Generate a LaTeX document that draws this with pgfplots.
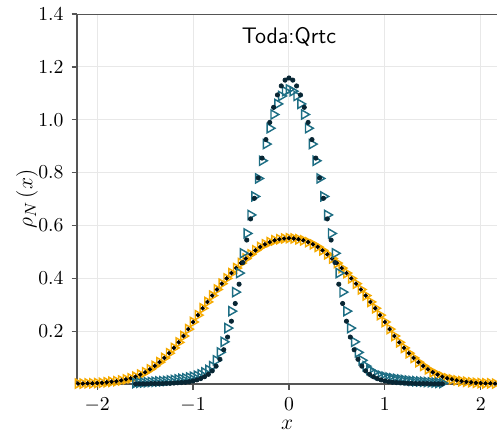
\documentclass[border=0pt]{standalone}
\usepackage{pgfplots}
\usepackage{pgfplotstable}
\pgfplotsset{compat=1.18}
\definecolor{orng}{RGB}{245,170,0}
\definecolor{tealc}{RGB}{30,110,132}
\definecolor{dkteal}{RGB}{8,38,52}
\definecolor{spine}{RGB}{85,85,85}
\definecolor{gridc}{RGB}{232,232,232}

\pgfplotstableread{
x y
-2.20 0.002
-2.15 0.002
-2.10 0.003
-2.05 0.003
-2.00 0.004
-1.95 0.005
-1.90 0.007
-1.85 0.009
-1.80 0.011
-1.75 0.014
-1.70 0.018
-1.65 0.022
-1.60 0.028
-1.55 0.036
-1.50 0.045
-1.45 0.056
-1.40 0.069
-1.35 0.083
-1.30 0.099
-1.25 0.117
-1.20 0.137
-1.15 0.158
-1.10 0.182
-1.05 0.208
-1.00 0.235
-0.95 0.261
-0.90 0.287
-0.85 0.311
-0.80 0.335
-0.75 0.358
-0.70 0.380
-0.65 0.400
-0.60 0.420
-0.55 0.439
-0.50 0.458
-0.45 0.475
-0.40 0.491
-0.35 0.506
-0.30 0.519
-0.25 0.529
-0.20 0.537
-0.15 0.544
-0.10 0.548
-0.05 0.551
0.00 0.552
0.05 0.551
0.10 0.548
0.15 0.544
0.20 0.537
0.25 0.529
0.30 0.519
0.35 0.506
0.40 0.491
0.45 0.475
0.50 0.458
0.55 0.439
0.60 0.420
0.65 0.400
0.70 0.380
0.75 0.358
0.80 0.335
0.85 0.311
0.90 0.287
0.95 0.261
1.00 0.235
1.05 0.208
1.10 0.182
1.15 0.158
1.20 0.137
1.25 0.117
1.30 0.099
1.35 0.083
1.40 0.069
1.45 0.056
1.50 0.045
1.55 0.036
1.60 0.028
1.65 0.022
1.70 0.018
1.75 0.014
1.80 0.011
1.85 0.009
1.90 0.007
1.95 0.005
2.00 0.004
2.05 0.003
2.10 0.003
2.15 0.002
2.20 0.002
}\orangetab

\pgfplotstableread{
x tri dot
-1.60 0.004 0.001
-1.56 0.005 0.001
-1.52 0.006 0.001
-1.48 0.007 0.001
-1.44 0.008 0.002
-1.40 0.009 0.002
-1.36 0.010 0.002
-1.32 0.011 0.002
-1.28 0.012 0.003
-1.24 0.014 0.003
-1.20 0.016 0.004
-1.16 0.018 0.005
-1.12 0.020 0.006
-1.08 0.022 0.007
-1.04 0.025 0.009
-1.00 0.028 0.012
-0.96 0.032 0.016
-0.92 0.037 0.021
-0.88 0.044 0.028
-0.84 0.054 0.037
-0.80 0.068 0.050
-0.76 0.090 0.068
-0.72 0.120 0.094
-0.68 0.160 0.130
-0.64 0.212 0.178
-0.60 0.276 0.238
-0.56 0.348 0.305
-0.52 0.420 0.378
-0.48 0.495 0.460
-0.44 0.570 0.545
-0.40 0.640 0.625
-0.36 0.710 0.703
-0.32 0.778 0.780
-0.28 0.845 0.855
-0.24 0.908 0.925
-0.20 0.968 0.990
-0.16 1.020 1.047
-0.12 1.060 1.094
-0.08 1.090 1.128
-0.04 1.108 1.150
0.00 1.115 1.158
0.04 1.108 1.150
0.08 1.090 1.128
0.12 1.060 1.094
0.16 1.020 1.047
0.20 0.968 0.990
0.24 0.908 0.925
0.28 0.845 0.855
0.32 0.778 0.780
0.36 0.710 0.703
0.40 0.640 0.625
0.44 0.570 0.545
0.48 0.495 0.460
0.52 0.420 0.378
0.56 0.348 0.305
0.60 0.276 0.238
0.64 0.212 0.178
0.68 0.160 0.130
0.72 0.120 0.094
0.76 0.090 0.068
0.80 0.068 0.050
0.84 0.054 0.037
0.88 0.044 0.028
0.92 0.037 0.021
0.96 0.032 0.016
1.00 0.028 0.012
1.04 0.025 0.009
1.08 0.022 0.007
1.12 0.020 0.006
1.16 0.018 0.005
1.20 0.016 0.004
1.24 0.014 0.003
1.28 0.012 0.003
1.32 0.011 0.002
1.36 0.010 0.002
1.40 0.009 0.002
1.44 0.008 0.002
1.48 0.007 0.001
1.52 0.006 0.001
1.56 0.005 0.001
1.60 0.004 0.001
}\tealtab

\begin{document}
\begin{tikzpicture}
\begin{axis}[
  scale only axis,
  width=233.3pt, height=205.6pt,
  xmin=-2.21, xmax=2.17,
  ymin=0, ymax=1.4,
  xtick={-2,-1,0,1,2},
  ytick={0.2,0.4,0.6,0.8,1.0,1.2,1.4},
  yticklabels={$0.2$,$0.4$,$0.6$,$0.8$,$1.0$,$1.2$,$1.4$},
  axis lines*=left,
  axis line style={draw=spine, line width=1.1pt},
  tick align=outside,
  major tick length=3pt,
  tick style={draw=spine, line width=0.7pt},
  grid=major,
  grid style={draw=gridc, line width=0.5pt},
  tick label style={font=\fontsize{11}{13}\selectfont},
  xticklabel style={yshift=-1pt},
  yticklabel style={xshift=-1pt},
  xlabel={$x$},
  ylabel={$\rho_N\,(x)$},
  label style={font=\fontsize{12.5}{15}\selectfont},
  xlabel style={at={(axis description cs:0.5,-0.111)}, anchor=center},
  ylabel style={at={(axis description cs:-0.119,0.5)}, anchor=center, rotate=0},
  clip=true,
]
\addplot[only marks, draw=orng, mark=triangle, mark size=2.9pt, mark options={rotate=-90, line width=0.8pt, fill=none}] table[x=x, y=y] {\orangetab};
\addplot[only marks, mark=*, mark size=1.0pt, color=black, mark options={fill=black, draw=black}] table[x=x, y=y] {\orangetab};
\addplot[only marks, draw=tealc, mark=triangle, mark size=2.9pt, mark options={rotate=-90, line width=0.8pt, fill=none}] table[x=x, y=tri] {\tealtab};
\addplot[only marks, mark=*, mark size=1.2pt, color=dkteal, mark options={fill=dkteal, draw=dkteal}] table[x=x, y=dot] {\tealtab};
\draw[spine, line width=1.1pt] (rel axis cs:0,1) -- (rel axis cs:1,1);
\node[anchor=north, inner sep=0pt, font=\sffamily\fontsize{12.5}{15}\selectfont] at (axis cs:0,1.4) [yshift=-7pt] {Toda:Qrtc};
\coordinate (A) at (rel axis cs:0,0);
\coordinate (B) at (rel axis cs:1,1);
\end{axis}
\pgfresetboundingbox
\path ([shift={(-42.8pt,-28.9pt)}]A) rectangle ([shift={(0pt,7.8pt)}]B);
\end{tikzpicture}
\end{document}
